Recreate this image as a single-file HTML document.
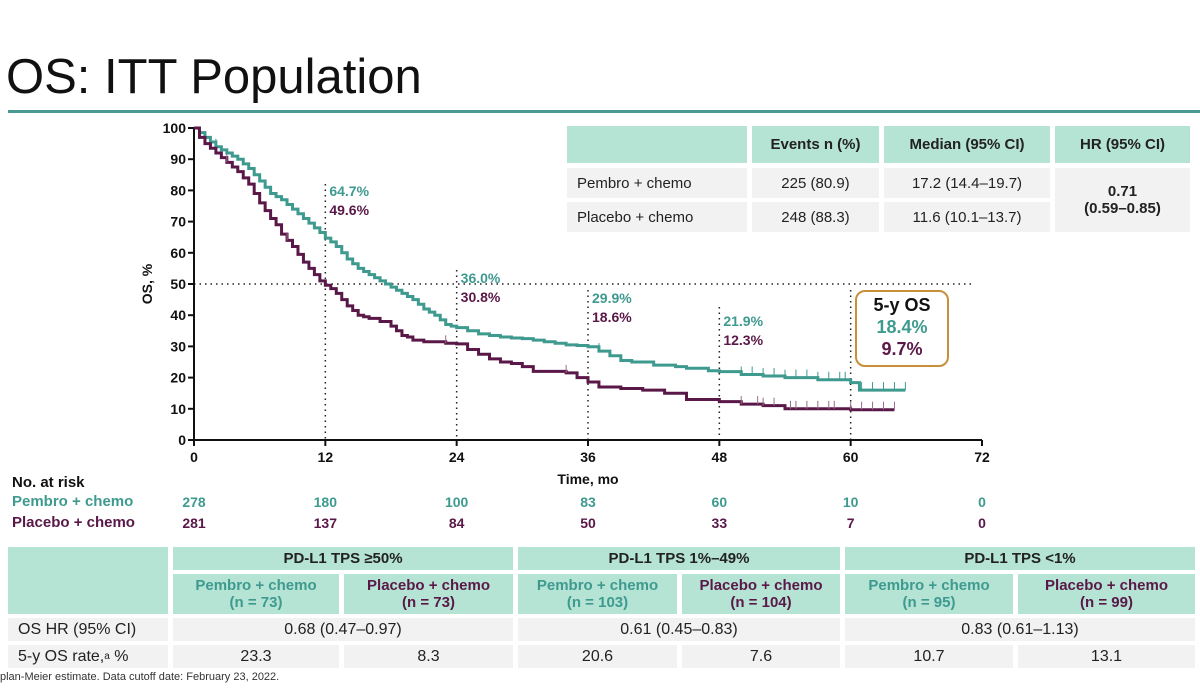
<!DOCTYPE html>
<html><head><meta charset="utf-8">
<style>
body{margin:0;width:1200px;height:691px;background:#fff;position:relative;overflow:hidden;font-family:"Liberation Sans",sans-serif;}
.abs{position:absolute;}
.c{position:absolute;display:flex;align-items:center;justify-content:center;text-align:center;font-size:15px;color:#222;line-height:17px;}
.h{background:#b5e3d4;font-weight:bold;}
.r{background:#f2f2f2;}
.teal{color:#3e9a8f;}
.purp{color:#5a1848;}
</style></head><body>
<div class="abs" style="left:6px;top:49px;font-size:49px;color:#111;">OS: ITT Population</div>
<div class="abs" style="left:8px;top:110px;width:1192px;height:3px;background:#4a9a94;"></div>

<svg class="abs" style="left:0;top:0" width="1200" height="540" id="chart"></svg>

<div>
<div class="c h" style="left:567px;top:126px;width:180px;height:37px;"></div>
<div class="c h" style="left:752px;top:126px;width:127px;height:37px;">Events n (%)</div>
<div class="c h" style="left:884px;top:126px;width:166px;height:37px;">Median (95% CI)</div>
<div class="c h" style="left:1055px;top:126px;width:135px;height:37px;">HR (95% CI)</div>
<div class="c r" style="left:567px;top:168px;width:170px;height:30px;justify-content:flex-start;padding-left:10px;">Pembro + chemo</div>
<div class="c r" style="left:752px;top:168px;width:127px;height:30px;">225 (80.9)</div>
<div class="c r" style="left:884px;top:168px;width:166px;height:30px;">17.2 (14.4–19.7)</div>
<div class="c r" style="left:567px;top:202px;width:170px;height:30px;justify-content:flex-start;padding-left:10px;">Placebo + chemo</div>
<div class="c r" style="left:752px;top:202px;width:127px;height:30px;">248 (88.3)</div>
<div class="c r" style="left:884px;top:202px;width:166px;height:30px;">11.6 (10.1–13.7)</div>
<div class="c r" style="left:1055px;top:168px;width:135px;height:64px;font-weight:bold;">0.71<br>(0.59–0.85)</div>
</div>

<div class="abs" style="left:855px;top:290px;width:90px;height:71px;border:2px solid #c8903a;border-radius:10px;background:#fff;text-align:center;font-weight:bold;font-size:18px;line-height:22px;padding-top:2px;">
<div style="color:#111">5-y OS</div><div class="teal">18.4%</div><div class="purp">9.7%</div></div>

<div class="abs" style="left:12px;top:474px;font-size:15px;font-weight:bold;color:#111;">No. at risk</div>
<div class="abs teal" style="left:12px;top:493px;font-size:15px;font-weight:bold;">Pembro + chemo</div>
<div class="abs purp" style="left:12px;top:514px;font-size:15px;font-weight:bold;">Placebo + chemo</div>

<div>
<div class="c h" style="left:8px;top:547px;width:160px;height:67px;"></div>
<div class="c h" style="left:173px;top:547px;width:340px;height:23px;">PD-L1 TPS ≥50%</div>
<div class="c h" style="left:518px;top:547px;width:322px;height:23px;">PD-L1 TPS 1%–49%</div>
<div class="c h" style="left:845px;top:547px;width:350px;height:23px;">PD-L1 TPS &lt;1%</div>
<div class="c h teal" style="left:173px;top:574px;width:166px;height:40px;">Pembro + chemo<br>(n = 73)</div>
<div class="c h purp" style="left:344px;top:574px;width:169px;height:40px;">Placebo + chemo<br>(n = 73)</div>
<div class="c h teal" style="left:518px;top:574px;width:159px;height:40px;">Pembro + chemo<br>(n = 103)</div>
<div class="c h purp" style="left:682px;top:574px;width:158px;height:40px;">Placebo + chemo<br>(n = 104)</div>
<div class="c h teal" style="left:845px;top:574px;width:168px;height:40px;">Pembro + chemo<br>(n = 95)</div>
<div class="c h purp" style="left:1018px;top:574px;width:177px;height:40px;">Placebo + chemo<br>(n = 99)</div>
<div class="c r" style="left:8px;top:618px;width:150px;height:23px;justify-content:flex-start;padding-left:10px;font-size:16px;">OS HR (95% CI)</div>
<div class="c r" style="left:173px;top:618px;width:340px;height:23px;font-size:16px;">0.68 (0.47–0.97)</div>
<div class="c r" style="left:518px;top:618px;width:322px;height:23px;font-size:16px;">0.61 (0.45–0.83)</div>
<div class="c r" style="left:845px;top:618px;width:350px;height:23px;font-size:16px;">0.83 (0.61–1.13)</div>
<div class="c r" style="left:8px;top:645px;width:150px;height:23px;justify-content:flex-start;padding-left:10px;font-size:16px;">5-y OS rate,<sup style="font-size:10px;line-height:0">a</sup>&nbsp;%</div>
<div class="c r" style="left:173px;top:645px;width:166px;height:23px;font-size:16px;">23.3</div>
<div class="c r" style="left:344px;top:645px;width:169px;height:23px;font-size:16px;">8.3</div>
<div class="c r" style="left:518px;top:645px;width:159px;height:23px;font-size:16px;">20.6</div>
<div class="c r" style="left:682px;top:645px;width:158px;height:23px;font-size:16px;">7.6</div>
<div class="c r" style="left:845px;top:645px;width:168px;height:23px;font-size:16px;">10.7</div>
<div class="c r" style="left:1018px;top:645px;width:177px;height:23px;font-size:16px;">13.1</div>
</div>
<div class="abs" style="left:0;top:671px;font-size:11px;color:#333;">plan-Meier estimate. Data cutoff date: February 23, 2022.</div>

<script>
const xTicks=[0,12,24,36,48,60,72];
const yTicks=[0,10,20,30,40,50,60,70,80,90,100];
const pembroT=[0,0.5,1,1.5,2,2.5,3,3.5,4,4.5,5,5.5,6,6.5,7,7.5,8,8.5,9,9.5,10,10.5,11,11.5,12,12.5,13,13.5,14,14.5,15,15.5,16,16.5,17,17.5,18,18.5,19,19.5,20,20.5,21,21.5,22,22.5,23,23.5,24,25,26,27,28,29,30,31,32,33,34,35,36,37,38,39,40,42,44,45,47,48,50,52,54,57,60,60.8,65];
const pembroS=[100,98.5,97,95.5,94,93,92,91,90,88.5,87,85,83,81,79,78,77,75.5,74,72.5,71,69.5,68,66.5,64.7,63.5,62,60,58,56.5,55,54,53,52,51,50,49,48,47,46,45,43.5,42,41,40,38.5,37,36.5,36,35,34,33.5,33,32.7,32.5,32,31.5,31,30.5,30.3,29.9,28.5,27,25.5,25,24,23.5,23,22.2,21.9,21,20.5,20,19.3,18.4,16,16];
const placeboT=[0,0.5,1,1.5,2,2.5,3,3.5,4,4.5,5,5.5,6,6.5,7,7.5,8,8.5,9,9.5,10,10.5,11,11.5,12,12.5,13,13.5,14,14.5,15,15.5,16,17,18,18.5,19,19.5,20,21,23,24,25,26,27,28,29,30,31,34,35,36,37,39,41,43,45,48,50,52,54,60,64];
const placeboS=[100,97,95,93.5,92,90.5,89,87.5,86,84,82,79,76,73.5,71,69,66,64,62,59.5,57,55,53,51,49.6,48.5,47,45,43,41.5,40,39.5,39,38,36.5,35,33.5,33,32,31.5,31,30.8,29,27.5,26,25,24.5,23.5,22,21.5,20,18.6,17,16.5,16,15,13,12.3,11.5,11,10,9.7,9.7];
const pembroCens=[2,37,50,51,52,53,54,55,56,57,58,59,59.5,61,62,63,64,65];
const placeboCens=[3,8.5,23,34,50,51.5,52,53,54.5,55,56,57,58,58.5,60,61,62,63,64];
const markTimes=[12,24,36,48,60];
const pembroMark=["64.7%","36.0%","29.9%","21.9%"];
const placeboMark=["49.6%","30.8%","18.6%","12.3%"];
const pembroRisk=[278,180,100,83,60,10,0];
const placeboRisk=[281,137,84,50,33,7,0];

const TEAL="#3e9a8f",PURP="#5a1848";
const x=t=>194+t*(982-194)/72;
const y=s=>440-s*(440-128)/100;
const svg=document.getElementById('chart');
const NS="http://www.w3.org/2000/svg";
function mk(tag,attrs,parent){const e=document.createElementNS(NS,tag);for(const k in attrs)e.setAttribute(k,attrs[k]);(parent||svg).appendChild(e);return e;}

let e=mk('line',{x1:x(0),x2:x(71),y1:y(50),y2:y(50),stroke:'#222','stroke-width':1.5,'stroke-dasharray':'1.5 4'});


const topYs=[184,270,290,307,290];
markTimes.forEach((t,i)=>{
  const l=mk('line',{x1:x(t),x2:x(t),y1:topYs[i],y2:y(0),stroke:'#222','stroke-width':1.5,'stroke-dasharray':'1.5 4'});
  
  
});
const labY=[[196,215],[283,302],[303,322],[326,345]];
pembroMark.forEach((v,i)=>{
  const a=mk('text',{x:x(markTimes[i])+4,y:labY[i][0],fill:TEAL,'font-size':14,'font-weight':'bold'});a.textContent=v;
  
  
  const b=mk('text',{x:x(markTimes[i])+4,y:labY[i][1],fill:PURP,'font-size':14,'font-weight':'bold'});b.textContent=placeboMark[i];
  
  
});

e=mk('line',{x1:x(0),x2:x(0),y1:y(100),y2:y(0),stroke:'#111','stroke-width':2});


e=mk('line',{x1:x(0),x2:x(72),y1:y(0),y2:y(0),stroke:'#111','stroke-width':2});


yTicks.forEach(v=>{
  mk('line',{x1:x(0)-6,x2:x(0),y1:y(v),y2:y(v),stroke:'#111','stroke-width':2});
  const t=mk('text',{x:x(0)-8,y:y(v)+5,'text-anchor':'end','font-size':14,'font-weight':'bold',fill:'#111'});t.textContent=v;
  
  
});
xTicks.forEach((v,i)=>{
  mk('line',{x1:x(v),x2:x(v),y1:y(0),y2:y(0)+6,stroke:'#111','stroke-width':2});
  const t=mk('text',{x:x(v),y:462,'text-anchor':'middle','font-size':14,'font-weight':'bold',fill:'#111'});t.textContent=v;
  
  
  const a=mk('text',{x:x(v),y:507,'text-anchor':'middle','font-size':14,'font-weight':'bold',fill:TEAL});a.textContent=pembroRisk[i];
  
  
  const b=mk('text',{x:x(v),y:528,'text-anchor':'middle','font-size':14,'font-weight':'bold',fill:PURP});b.textContent=placeboRisk[i];
  
  
});
e=mk('text',{x:x(36),y:484,'text-anchor':'middle','font-size':14,'font-weight':'bold',fill:'#111'});e.textContent='Time, mo';


e=mk('text',{x:0,y:0,transform:'translate(152,284) rotate(-90)','text-anchor':'middle','font-size':14,'font-weight':'bold',fill:'#111'});e.textContent='OS, %';



function stepPath(T,S){let d='M'+x(T[0])+','+y(S[0]);for(let i=1;i<T.length;i++){d+=' H'+x(T[i])+' V'+y(S[i]);}return d;}
function survAt(T,S,t){let s=S[0];for(let i=0;i<T.length;i++){if(T[i]<=t)s=S[i];}return s;}
e=mk('path',{d:stepPath(pembroT,pembroS),fill:'none',stroke:TEAL,'stroke-width':3});


e=mk('path',{d:stepPath(placeboT,placeboS),fill:'none',stroke:PURP,'stroke-width':3});


pembroCens.forEach(t=>{const s=survAt(pembroT,pembroS,t);const c=mk('line',{x1:x(t),x2:x(t),y1:y(s)-8,y2:y(s),stroke:TEAL,'stroke-width':1});
  
  });
placeboCens.forEach(t=>{const s=survAt(placeboT,placeboS,t);const c=mk('line',{x1:x(t),x2:x(t),y1:y(s)-8,y2:y(s),stroke:'#9a6a8a','stroke-width':1});
  
  });
</script>
</body></html>
